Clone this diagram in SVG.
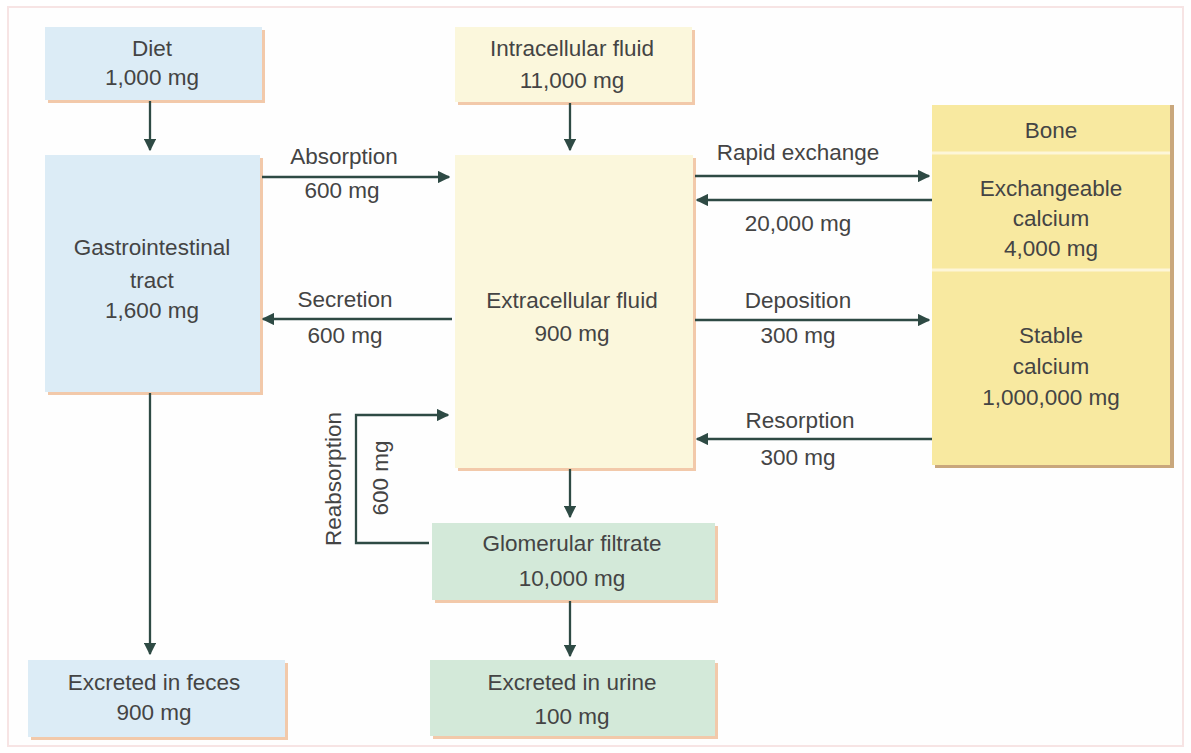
<svg xmlns="http://www.w3.org/2000/svg" width="1191" height="753" viewBox="0 0 1191 753">
<defs>
<marker id="ah" viewBox="0 0 10 10" refX="9" refY="5" markerWidth="5.5" markerHeight="5.5" orient="auto" markerUnits="strokeWidth">
<path d="M0,0 L10,5 L0,10 z" fill="#2e4a44"/>
</marker>
</defs>
<style>
text{font-family:"Liberation Sans",Arial,sans-serif;font-size:22.5px;fill:#444444;text-anchor:middle}
.sh{fill:#f2c9aa}
.blue{fill:#dcecf6}
.yel{fill:#fbf7dc}
.bone{fill:#f8e9a0}
.grn{fill:#d3e9d9}
.c{fill:none;stroke:#2e4a44;stroke-width:2.3;marker-end:url(#ah)}
</style>
<rect x="0" y="0" width="1191" height="753" fill="#ffffff"/>
<rect x="8" y="7" width="1175" height="739" fill="#fefefe" stroke="#f7e4e4" stroke-width="2"/>

<g id="diet">
<rect class="sh" x="48" y="30" width="217" height="73"/>
<rect class="blue" x="45" y="27" width="217" height="73"/>
<text x="152" y="56">Diet</text>
<text x="152" y="85">1,000 mg</text>
</g>

<g id="gi">
<rect class="sh" x="48" y="158" width="215" height="237"/>
<rect class="blue" x="45" y="155" width="215" height="237"/>
<text x="152" y="255">Gastrointestinal</text>
<text x="152" y="288">tract</text>
<text x="152" y="318">1,600 mg</text>
</g>

<g id="feces">
<rect class="sh" x="31" y="663" width="257" height="77"/>
<rect class="blue" x="28" y="660" width="257" height="77"/>
<text x="154" y="690">Excreted in feces</text>
<text x="154" y="720">900 mg</text>
</g>

<g id="icf">
<rect class="sh" x="458" y="30" width="237" height="75"/>
<rect class="yel" x="455" y="27" width="237" height="75"/>
<text x="572" y="56">Intracellular fluid</text>
<text x="572" y="88">11,000 mg</text>
</g>

<g id="ecf">
<rect class="sh" x="458" y="158" width="238" height="313"/>
<rect class="yel" x="455" y="155" width="238" height="313"/>
<text x="572" y="308">Extracellular fluid</text>
<text x="572" y="341">900 mg</text>
</g>

<g id="bone">
<rect fill="#c9a77c" x="935" y="105" width="239" height="363"/>
<rect class="bone" x="932" y="105" width="238" height="360"/>
<line x1="932" y1="153" x2="1170" y2="153" stroke="#fdf6d8" stroke-width="3"/>
<line x1="932" y1="270" x2="1170" y2="270" stroke="#fdf6d8" stroke-width="3"/>
<text x="1051" y="138">Bone</text>
<text x="1051" y="196">Exchangeable</text>
<text x="1051" y="226">calcium</text>
<text x="1051" y="256">4,000 mg</text>
<text x="1051" y="343">Stable</text>
<text x="1051" y="374">calcium</text>
<text x="1051" y="405">1,000,000 mg</text>
</g>

<g id="glomerular">
<rect class="sh" x="435" y="526" width="283" height="77"/>
<rect class="grn" x="432" y="523" width="283" height="77"/>
<text x="572" y="551">Glomerular filtrate</text>
<text x="572" y="586">10,000 mg</text>
</g>

<g id="urine">
<rect class="sh" x="433" y="663" width="285" height="76"/>
<rect class="grn" x="430" y="660" width="285" height="76"/>
<text x="572" y="690">Excreted in urine</text>
<text x="572" y="724">100 mg</text>
</g>

<g id="connectors">
<line class="c" x1="150" y1="101" x2="150" y2="150"/>
<line class="c" x1="150" y1="393" x2="150" y2="654"/>
<line class="c" x1="570" y1="103" x2="570" y2="150"/>
<line class="c" x1="570" y1="469" x2="570" y2="517"/>
<line class="c" x1="570" y1="601" x2="570" y2="656"/>
<line class="c" x1="262" y1="177" x2="449" y2="177"/>
<line class="c" x1="452" y1="319" x2="263" y2="319"/>
<line class="c" x1="695" y1="176" x2="929" y2="176"/>
<line class="c" x1="932" y1="200" x2="697" y2="200"/>
<line class="c" x1="695" y1="320" x2="929" y2="320"/>
<line class="c" x1="932" y1="439" x2="697" y2="439"/>
<polyline class="c" points="429,543 356,543 356,415 448,415"/>
<text x="344" y="164">Absorption</text>
<text x="342" y="198">600 mg</text>
<text x="345" y="307">Secretion</text>
<text x="345" y="343">600 mg</text>
<text x="798" y="160">Rapid exchange</text>
<text x="798" y="231">20,000 mg</text>
<text x="798" y="308">Deposition</text>
<text x="798" y="343">300 mg</text>
<text x="800" y="428">Resorption</text>
<text x="798" y="465">300 mg</text>
<text transform="translate(341,479) rotate(-90)">Reabsorption</text>
<text transform="translate(388,478) rotate(-90)">600 mg</text>
</g>
</svg>
